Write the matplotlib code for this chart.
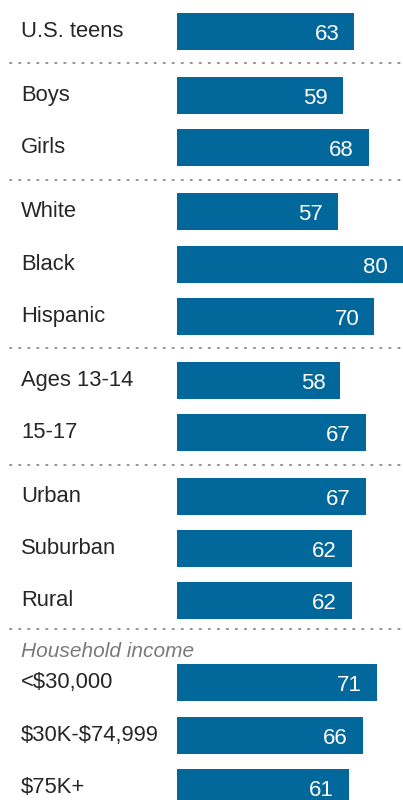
import matplotlib
matplotlib.use("Agg")
import matplotlib.pyplot as plt

# Share of teens, by group
categories = ["U.S. teens", "Boys", "Girls", "White", "Black", "Hispanic",
              "Ages 13-14", "15-17", "Urban", "Suburban", "Rural",
              "<$30,000", "$30K-$74,999", "$75K+"]
values = [63, 59, 68, 57, 80, 70, 58, 67, 67, 62, 62, 71, 66, 61]
income_title = "Household income"

BAR_COLOR = "#02679A"
TEXT_COLOR = "#262626"
FONT = ["Liberation Sans", "DejaVu Sans"]

W, H, DPI = 403, 800, 100
fig = plt.figure(figsize=(W / DPI, H / DPI), dpi=DPI)
ax = fig.add_axes([0, 0, 1, 1])

# x axis in value units: bars start at pixel 176.5, 2.825 px per point
x0_px, px_per = 176.5, 2.825
ax.set_xlim(-x0_px / px_per, (W - x0_px) / px_per)
ax.set_ylim(H, 0)
ax.axis("off")

# row centres (pixels from the top) and group separators
row_y = [31.5, 95.5, 147.5, 211.5, 264.5, 316.5, 380.5, 432.5,
         496.5, 548.5, 600.5, 682.5, 735.5, 787.5]
sep_y = [63, 180, 348, 464.5, 629]

ax.barh(row_y, values, height=37, left=0, color=BAR_COLOR, zorder=2)

x_label = (21 - x0_px) / px_per
for yy, cat, v in zip(row_y, categories, values):
    ax.text(x_label, yy + 5.8, cat, ha="left", va="baseline", fontsize=15.8,
            color=TEXT_COLOR, family=FONT, parse_math=False)
    ax.text(v - 15 / px_per, yy + 8.3, str(v), ha="right", va="baseline",
            fontsize=16, color="white", family=FONT)

for sy in sep_y:
    ax.plot([(10 - x0_px) / px_per, (400 - x0_px) / px_per], [sy, sy],
            linestyle=(0, (0.8, 4.2)), color="#8a8a8a", linewidth=1.3,
            dash_capstyle="round", zorder=1)

ax.text(x_label, 657, income_title, ha="left", va="baseline",
        fontsize=15, style="italic", color="#7a7a7a", family=FONT)

fig.savefig("out.png", dpi=DPI)
